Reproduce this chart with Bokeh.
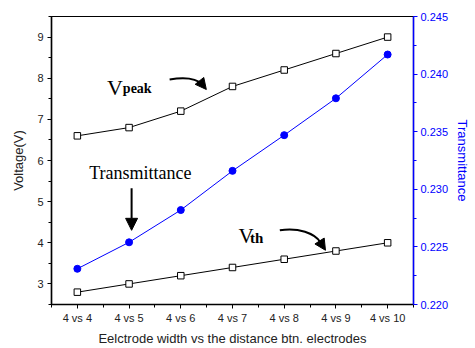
from bokeh.plotting import figure
from bokeh.models import (Range1d, LinearAxis, FixedTicker, SingleIntervalTicker,
                          Arrow, NormalHead, Label, NumeralTickFormatter)
from bokeh.embed import file_html
from bokeh.resources import INLINE

categories = ["4 vs 4", "4 vs 5", "4 vs 6", "4 vs 7", "4 vs 8", "4 vs 9", "4 vs 10"]
v_peak = [6.6, 6.8, 7.2, 7.8, 8.2, 8.6, 9.0]
v_th = [2.8, 3.0, 3.2, 3.4, 3.6, 3.8, 4.0]
transmittance = [0.2231, 0.2254, 0.2282, 0.2316, 0.2347, 0.2379, 0.2417]

xs = list(range(len(categories)))

FONT = "Liberation Sans"
SERIF = "Liberation Serif"

p = figure(width=473, height=348, output_backend="svg", toolbar_location=None,
           x_range=Range1d(-0.5, len(categories) - 0.5), y_range=Range1d(2.5, 9.5),
           min_border_left=51, min_border_right=56, min_border_top=16, min_border_bottom=44)
p.extra_y_ranges = {"t": Range1d(0.220, 0.245)}
p.grid.visible = False
p.outline_line_color = "black"
p.outline_line_width = 1.2
p.background_fill_color = "white"
p.border_fill_color = "white"

xa = p.xaxis[0]
xa.ticker = FixedTicker(ticks=xs, minor_ticks=[i + 0.5 for i in range(-1, len(categories))])
xa.major_label_overrides = {i: c for i, c in enumerate(categories)}
xa.axis_label = "Eelctrode width vs the distance btn. electrodes"
ya = p.yaxis[0]
ya.ticker = SingleIntervalTicker(interval=1, num_minor_ticks=2)
ya.axis_label = "Voltage(V)"

for ax in (xa, ya):
    ax.axis_line_color = "black"
    ax.axis_line_width = 1.5
    ax.major_tick_line_color = "black"
    ax.minor_tick_line_color = "black"
    ax.major_tick_out = 4
    ax.major_tick_in = 0
    ax.minor_tick_out = 3
    ax.minor_tick_in = 0
    ax.major_label_text_font = FONT
    ax.major_label_text_font_size = "11px"
    ax.major_label_text_color = "#222222"
    ax.axis_label_text_font = FONT
    ax.axis_label_text_font_size = "13px"
    ax.axis_label_text_font_style = "normal"
    ax.axis_label_text_color = "#222222"
    ax.major_label_standoff = 4
xa.major_label_standoff = 3
xa.axis_label_standoff = 4
ya.axis_label_standoff = 8

ra = LinearAxis(y_range_name="t", ticker=SingleIntervalTicker(interval=0.005, num_minor_ticks=2),
                formatter=NumeralTickFormatter(format="0.000"), axis_label="Transmittance")
ra.axis_line_color = "blue"
ra.axis_line_width = 1.5
ra.major_tick_line_color = "blue"
ra.minor_tick_line_color = "blue"
ra.major_tick_out = 4
ra.major_tick_in = 0
ra.minor_tick_out = 3
ra.minor_tick_in = 0
ra.major_label_text_color = "blue"
ra.major_label_text_font = FONT
ra.major_label_text_font_size = "11px"
ra.axis_label_text_color = "blue"
ra.axis_label_text_font = FONT
ra.axis_label_text_font_size = "13px"
ra.axis_label_text_font_style = "normal"
ra.major_label_standoff = 3
ra.axis_label_standoff = 4
p.add_layout(ra, "right")

p.line(xs, v_peak, line_color="black", line_width=1)
p.scatter(xs, v_peak, marker="square", size=6.5, fill_color="white", line_color="black", line_width=1)
p.line(xs, v_th, line_color="black", line_width=1)
p.scatter(xs, v_th, marker="square", size=6.5, fill_color="white", line_color="black", line_width=1)
p.line(xs, transmittance, line_color="blue", line_width=1, y_range_name="t")
p.scatter(xs, transmittance, marker="circle", size=7, fill_color="blue", line_color="blue",
          y_range_name="t")

def lab(x, y, t, size, bold=False):
    p.add_layout(Label(x=x, y=y, text=t, text_font=SERIF, text_font_size=size,
                       text_font_style="bold" if bold else "normal",
                       text_color="black", text_baseline="alphabetic", text_align="left"))

lab(0.575, 7.767, "V", "22px")
lab(0.88, 7.738, "peak", "14px", bold=True)
lab(3.118, 4.158, "V", "21px")
lab(3.34, 4.121, "th", "15px", bold=True)
lab(0.229, 5.704, "Transmittance", "18px")

p.bezier(x0=[1.784], y0=[7.968], x1=[2.417], y1=[7.847], cx0=[2.130], cy0=[8.041],
         cx1=[2.322], cy1=[7.968], line_color="black", line_width=2)
p.add_layout(Arrow(x_start=2.39, y_start=7.89, x_end=2.494, y_end=7.726, line_color="black",
                   line_width=2, end=NormalHead(size=11, fill_color="black", line_color="black")))
p.bezier(x0=[3.915], y0=[4.303], x1=[4.701], y1=[4.012], cx0=[4.279], cy0=[4.376],
         cx1=[4.586], cy1=[4.230], line_color="black", line_width=2)
p.add_layout(Arrow(x_start=4.68, y_start=4.05, x_end=4.798, y_end=3.818, line_color="black",
                   line_width=2, end=NormalHead(size=11, fill_color="black", line_color="black")))
p.add_layout(Arrow(x_start=1.049, y_start=5.323, x_end=1.049, y_end=4.303, line_color="black",
                   line_width=2, end=NormalHead(size=12, fill_color="black", line_color="black")))

open("out.html", "w").write(file_html(p, INLINE))
